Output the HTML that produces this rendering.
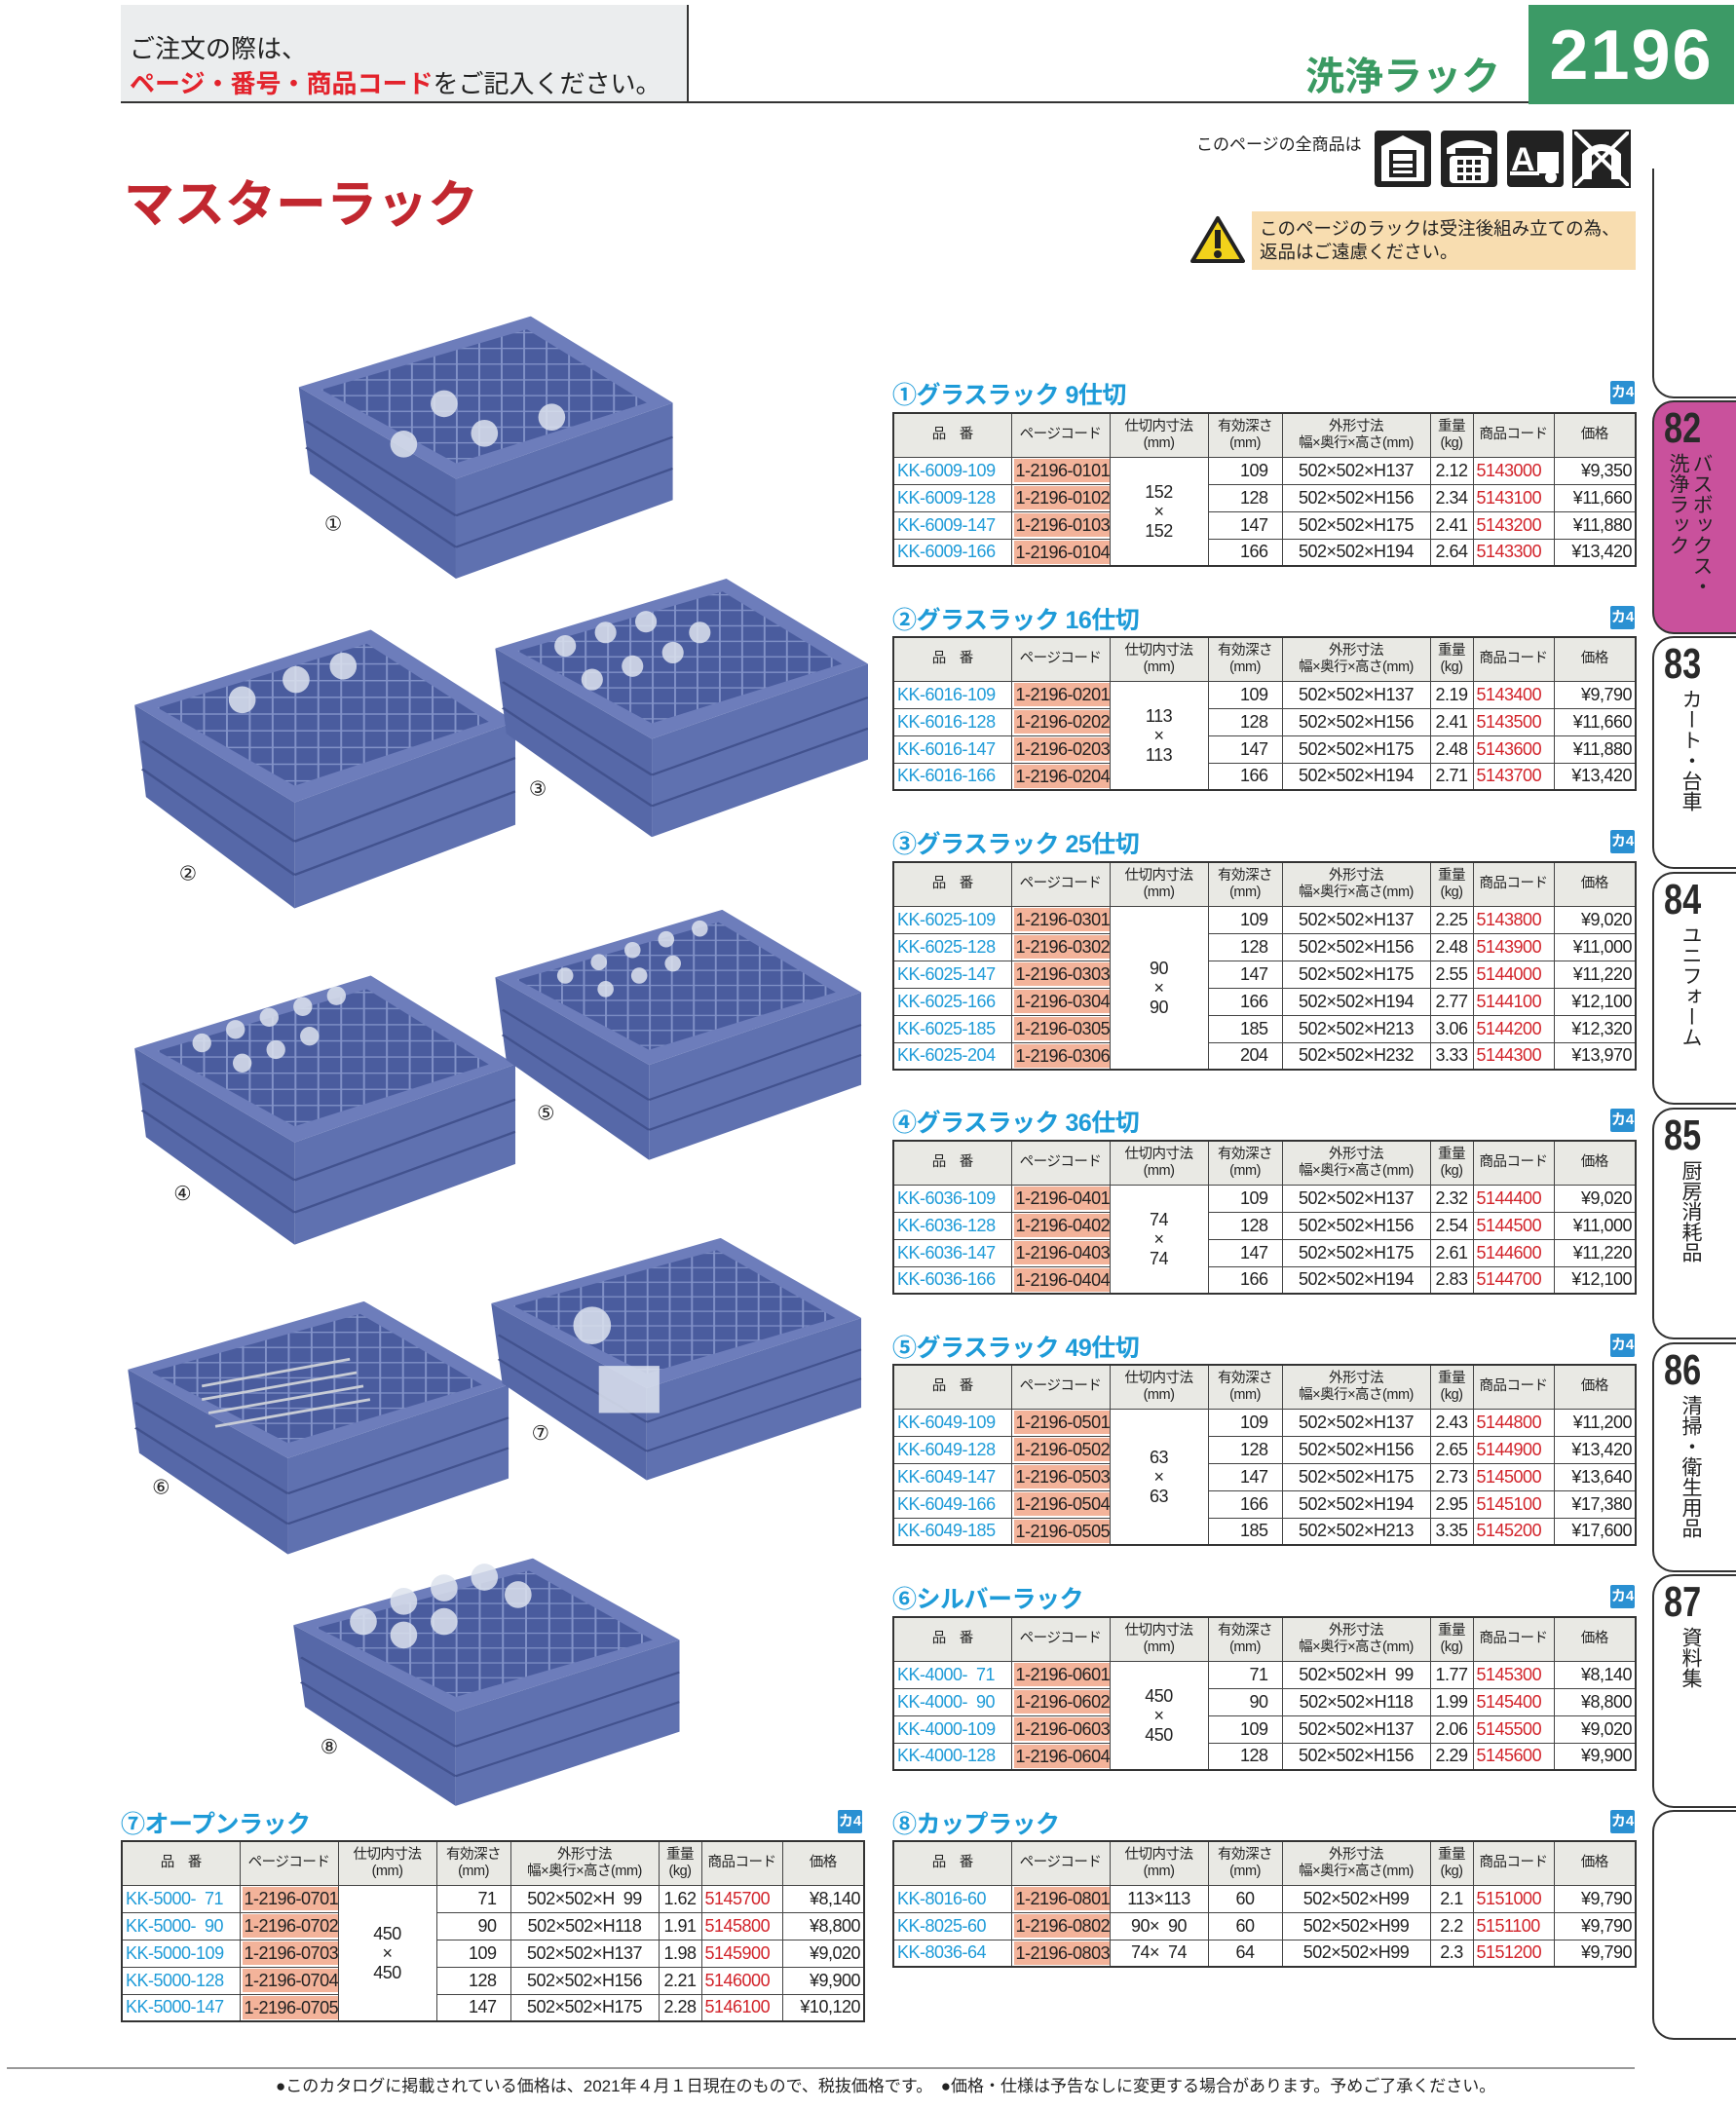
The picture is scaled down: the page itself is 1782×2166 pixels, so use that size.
<!DOCTYPE html>
<html><head><meta charset="utf-8">
<style>
*{margin:0;padding:0;box-sizing:border-box}
body{width:1782px;height:2166px;position:relative;background:#fff;font-family:"Liberation Sans","Noto Sans CJK JP",sans-serif;overflow:hidden;color:#222}
.abs{position:absolute}
table.t{position:absolute;border-collapse:collapse;table-layout:fixed;font-size:18px;border:2px solid #333}
table.t td,table.t th{border:1.5px solid #444;white-space:nowrap;overflow:hidden;padding:0 3px;font-weight:normal;letter-spacing:-0.5px}
table.t th{background:#e9e9e4;font-size:14.5px;line-height:17px;height:45px;color:#222}
table.t tr.r td{height:28px}
td.pn{color:#1e9bd8;text-align:left}
td.pc{text-align:left;padding:0 2px!important}
td.pc span{background:#f3b39a;display:inline-block;padding:0 2px;line-height:24px}
td.dv{text-align:center;line-height:20px}
td.dp{text-align:right;padding-right:14px!important}
td.ex{text-align:center}
td.wt{text-align:center}
td.cd{color:#d2232a;text-align:left}
td.pr{text-align:right}
.ttl{position:absolute;color:#1e9bd8;font-size:25px;font-weight:bold;letter-spacing:-0.5px}
.ka{position:absolute;background:#2a90d2;color:#fff;font-size:15px;font-weight:bold;width:25px;height:24px;text-align:center;line-height:24px;border-radius:2px}
.tab{position:absolute;left:1696px;width:90px;border:2px solid #333;border-right:none;border-radius:22px 0 0 22px}
.tab .n{position:absolute;left:10px;top:2px;font-size:44px;font-weight:bold;transform:scaleX(0.78);transform-origin:left top;color:#2a2a2a}
.tab .v{position:absolute;top:52px;writing-mode:vertical-rl;font-size:21px;line-height:24px;color:#222}
</style></head><body>

<!-- header -->
<div class="abs" style="left:124px;top:5px;width:583px;height:100px;background:#ebedee;border-right:2px solid #333"></div>
<div class="abs" style="left:124px;top:104px;width:1445px;height:2px;background:#333"></div>
<div class="abs" style="left:133px;top:32px;font-size:26px;line-height:36px;color:#222;white-space:nowrap">ご注文の際は、<br><span style="color:#e3232c;font-weight:bold">ページ・番号・商品コード</span>をご記入ください。</div>
<div class="abs" style="left:1340px;top:46px;font-size:40px;font-weight:bold;color:#3a9a62;white-space:nowrap">洗浄ラック</div>
<div class="abs" style="left:1569px;top:5px;width:211px;height:102px;background:#3c9a66"></div>
<div class="abs" style="left:1569px;top:16px;width:211px;text-align:center;font-size:72px;font-weight:bold;color:#fff;letter-spacing:2px">2196</div>

<div class="abs" style="left:127px;top:168px;font-size:52px;font-weight:bold;color:#c1272f;white-space:nowrap">マスターラック</div>

<div class="abs" style="left:1228px;top:134px;font-size:17px;color:#222">このページの全商品は</div>
<svg class="abs" style="left:1410px;top:130px" width="272" height="66">
 <rect x="1" y="4" width="58" height="58" rx="4" fill="#222"/>
 <polygon points="8,20 30,9 52,20 52,56 8,56" fill="#fff"/><rect x="16" y="24" width="28" height="28" fill="#222"/><rect x="20" y="28" width="20" height="20" fill="#fff"/><rect x="20" y="35" width="20" height="3" fill="#222"/><rect x="20" y="42" width="20" height="3" fill="#222"/>
 <rect x="69" y="4" width="58" height="58" rx="4" fill="#222"/>
 <path d="M75,22 Q98,6 121,22 L121,28 L112,28 L112,22 L84,22 L84,28 L75,28Z" fill="#fff"/><rect x="78" y="30" width="40" height="28" rx="4" fill="#fff"/>
 <g fill="#222"><rect x="86" y="34" width="6" height="5"/><rect x="95" y="34" width="6" height="5"/><rect x="104" y="34" width="6" height="5"/><rect x="86" y="42" width="6" height="5"/><rect x="95" y="42" width="6" height="5"/><rect x="104" y="42" width="6" height="5"/><rect x="86" y="50" width="6" height="5"/><rect x="95" y="50" width="6" height="5"/><rect x="104" y="50" width="6" height="5"/></g>
 <rect x="137" y="4" width="58" height="58" rx="4" fill="#222"/>
 <text x="141" y="45" font-size="34" font-weight="bold" fill="#fff" font-family="Liberation Sans">A</text>
 <rect x="168" y="26" width="22" height="22" fill="#fff"/><circle cx="182" cy="52" r="6" fill="#fff"/><rect x="140" y="46" width="30" height="4" fill="#fff"/>
 <rect x="205" y="4" width="58" height="58" fill="#222"/>
 <path d="M214,54 L214,28 Q234,8 254,28 L254,54 L244,54 L244,30 Q234,20 224,30 L224,54Z" fill="#fff"/>
 <line x1="205" y1="4" x2="263" y2="62" stroke="#fff" stroke-width="4"/><line x1="263" y1="4" x2="205" y2="62" stroke="#fff" stroke-width="4"/>
 <rect x="205" y="4" width="58" height="58" fill="none" stroke="#222" stroke-width="2"/>
</svg>
<svg class="abs" style="left:1222px;top:221px" width="56" height="50"><polygon points="28,3 54,47 2,47" fill="#f2d21b" stroke="#222" stroke-width="4" stroke-linejoin="round"/><rect x="25" y="15" width="6" height="19" fill="#222"/><circle cx="28" cy="40" r="4" fill="#222"/></svg>
<div class="abs" style="left:1285px;top:217px;width:394px;height:60px;background:#f8ddb0;font-size:18.5px;line-height:24px;padding:6px 0 0 8px;color:#222;white-space:nowrap">このページのラックは受注後組み立ての為、<br>返品はご遠慮ください。</div>

<!-- tabs -->
<div class="tab" style="top:173px;height:236px;border-top:none;border-radius:0 0 0 22px"></div>
<div class="tab" style="top:411px;height:240px;background:#c9519c"><div class="n">82</div><div class="v" style="left:12px;height:180px">バスボックス・<br>洗浄ラック</div></div>
<div class="tab" style="top:653px;height:239px"><div class="n">83</div><div class="v" style="left:25px">カート・台車</div></div>
<div class="tab" style="top:895px;height:239px"><div class="n">84</div><div class="v" style="left:25px">ユニフォーム</div></div>
<div class="tab" style="top:1137px;height:238px"><div class="n">85</div><div class="v" style="left:25px">厨房消耗品</div></div>
<div class="tab" style="top:1378px;height:236px"><div class="n">86</div><div class="v" style="left:25px">清掃・衛生用品</div></div>
<div class="tab" style="top:1616px;height:240px"><div class="n">87</div><div class="v" style="left:25px">資料集</div></div>
<div class="tab" style="top:1858px;height:236px;border-bottom:2px solid #333"></div>

<!-- racks -->
<svg class="abs" style="left:0;top:0" width="1782" height="2166">
<defs>
<pattern id="g" width="6" height="6" patternUnits="userSpaceOnUse"><rect width="6" height="6" fill="#4a5c9e"/><path d="M0,0H6M0,0V6" stroke="#8292c8" stroke-width="1"/></pattern>
<symbol id="rk" viewBox="0 0 100 100" preserveAspectRatio="none">
 <polygon points="0,27 3,60 42,100 42,62" fill="#5668a8"/>
 <polygon points="42,62 42,100 100,70 100,33" fill="#5f71b0"/>
 <g stroke="#42528e" stroke-width="0.8"><line x1="2" y1="40" x2="42" y2="76"/><line x1="2" y1="50" x2="42" y2="88"/><line x1="42" y1="76" x2="100" y2="46"/><line x1="42" y1="88" x2="100" y2="58"/></g>
 <polygon points="0,27 62,0 100,33 42,62" fill="#6d7dbb"/>
 <polygon points="6,28 61,5 93,33 42,56" fill="url(#g)"/>
</symbol>
</defs>
<g transform="scale(1.3814)">
<use href="#rk" x="222" y="235" width="278" height="195"/>
<use href="#rk" x="100" y="468" width="283" height="207"/>
<use href="#rk" x="368" y="430" width="277" height="192"/>
<use href="#rk" x="100" y="725" width="283" height="200"/>
<use href="#rk" x="368" y="676" width="272" height="186"/>
<use href="#rk" x="95" y="967" width="283" height="188"/>
<use href="#rk" x="365" y="920" width="275" height="180"/>
<use href="#rk" x="218" y="1158" width="287" height="184"/>
<g fill="#dde3ee" opacity="0.85">
<circle cx="330" cy="300" r="10"/><circle cx="360" cy="322" r="10"/><circle cx="300" cy="330" r="10"/><circle cx="410" cy="310" r="10"/>
<circle cx="180" cy="520" r="10"/><circle cx="220" cy="505" r="10"/><circle cx="255" cy="495" r="10"/>
<circle cx="420" cy="480" r="8"/><circle cx="450" cy="470" r="8"/><circle cx="480" cy="462" r="8"/><circle cx="470" cy="495" r="8"/><circle cx="500" cy="485" r="8"/><circle cx="520" cy="470" r="8"/><circle cx="440" cy="505" r="8"/>
<circle cx="150" cy="775" r="7"/><circle cx="175" cy="765" r="7"/><circle cx="200" cy="756" r="7"/><circle cx="225" cy="748" r="7"/><circle cx="250" cy="740" r="7"/><circle cx="180" cy="790" r="7"/><circle cx="205" cy="780" r="7"/><circle cx="230" cy="770" r="7"/>
<circle cx="420" cy="725" r="6"/><circle cx="445" cy="715" r="6"/><circle cx="470" cy="706" r="6"/><circle cx="495" cy="698" r="6"/><circle cx="520" cy="690" r="6"/><circle cx="450" cy="735" r="6"/><circle cx="475" cy="725" r="6"/><circle cx="500" cy="716" r="6"/>
<circle cx="440" cy="985" r="14"/><rect x="445" y="1015" width="45" height="35"/>
<circle cx="300" cy="1190" r="10"/><circle cx="330" cy="1180" r="10"/><circle cx="360" cy="1172" r="10"/><circle cx="270" cy="1205" r="10"/><circle cx="300" cy="1215" r="10"/><circle cx="330" cy="1205" r="10"/><circle cx="385" cy="1185" r="10"/>
</g>
<g stroke="#c8ccd6" stroke-width="2"><line x1="150" y1="1030" x2="260" y2="1010"/><line x1="150" y1="1040" x2="265" y2="1020"/><line x1="155" y1="1050" x2="270" y2="1030"/><line x1="160" y1="1060" x2="275" y2="1040"/></g>
<g font-family="Liberation Sans,sans-serif" font-size="15" fill="#222">
<text x="241" y="394">①</text><text x="133" y="654">②</text><text x="393" y="591">③</text><text x="129" y="892">④</text><text x="399" y="832">⑤</text><text x="113" y="1110">⑥</text><text x="395" y="1070">⑦</text><text x="238" y="1303">⑧</text>
</g>
</g>
</svg>

<div class="ttl" style="left:916px;top:386px">①グラスラック 9仕切</div><div class="ka" style="left:1653px;top:391px">カ4</div>
<table class="t" style="left:916px;top:423px;width:762px">
<colgroup><col style="width:121px"><col style="width:101px"><col style="width:101px"><col style="width:76px"><col style="width:152px"><col style="width:44px"><col style="width:83px"><col style="width:84px"></colgroup>
<tr><th>品　番</th><th>ページコード</th><th>仕切内寸法<br>(mm)</th><th>有効深さ<br>(mm)</th><th>外形寸法<br>幅×奥行×高さ(mm)</th><th>重量<br>(kg)</th><th>商品コード</th><th>価格</th></tr>
<tr class="r"><td class="pn">KK-6009-109</td><td class="pc"><span>1-2196-0101</span></td><td class="dv" rowspan="4">152<br>×<br>152</td><td class="dp">109</td><td class="ex">502×502×H137</td><td class="wt">2.12</td><td class="cd">5143000</td><td class="pr">¥9,350</td></tr>
<tr class="r"><td class="pn">KK-6009-128</td><td class="pc"><span>1-2196-0102</span></td><td class="dp">128</td><td class="ex">502×502×H156</td><td class="wt">2.34</td><td class="cd">5143100</td><td class="pr">¥11,660</td></tr>
<tr class="r"><td class="pn">KK-6009-147</td><td class="pc"><span>1-2196-0103</span></td><td class="dp">147</td><td class="ex">502×502×H175</td><td class="wt">2.41</td><td class="cd">5143200</td><td class="pr">¥11,880</td></tr>
<tr class="r"><td class="pn">KK-6009-166</td><td class="pc"><span>1-2196-0104</span></td><td class="dp">166</td><td class="ex">502×502×H194</td><td class="wt">2.64</td><td class="cd">5143300</td><td class="pr">¥13,420</td></tr>
</table>

<div class="ttl" style="left:916px;top:617px">②グラスラック 16仕切</div><div class="ka" style="left:1653px;top:622px">カ4</div>
<table class="t" style="left:916px;top:653px;width:762px">
<colgroup><col style="width:121px"><col style="width:101px"><col style="width:101px"><col style="width:76px"><col style="width:152px"><col style="width:44px"><col style="width:83px"><col style="width:84px"></colgroup>
<tr><th>品　番</th><th>ページコード</th><th>仕切内寸法<br>(mm)</th><th>有効深さ<br>(mm)</th><th>外形寸法<br>幅×奥行×高さ(mm)</th><th>重量<br>(kg)</th><th>商品コード</th><th>価格</th></tr>
<tr class="r"><td class="pn">KK-6016-109</td><td class="pc"><span>1-2196-0201</span></td><td class="dv" rowspan="4">113<br>×<br>113</td><td class="dp">109</td><td class="ex">502×502×H137</td><td class="wt">2.19</td><td class="cd">5143400</td><td class="pr">¥9,790</td></tr>
<tr class="r"><td class="pn">KK-6016-128</td><td class="pc"><span>1-2196-0202</span></td><td class="dp">128</td><td class="ex">502×502×H156</td><td class="wt">2.41</td><td class="cd">5143500</td><td class="pr">¥11,660</td></tr>
<tr class="r"><td class="pn">KK-6016-147</td><td class="pc"><span>1-2196-0203</span></td><td class="dp">147</td><td class="ex">502×502×H175</td><td class="wt">2.48</td><td class="cd">5143600</td><td class="pr">¥11,880</td></tr>
<tr class="r"><td class="pn">KK-6016-166</td><td class="pc"><span>1-2196-0204</span></td><td class="dp">166</td><td class="ex">502×502×H194</td><td class="wt">2.71</td><td class="cd">5143700</td><td class="pr">¥13,420</td></tr>
</table>

<div class="ttl" style="left:916px;top:847px">③グラスラック 25仕切</div><div class="ka" style="left:1653px;top:852px">カ4</div>
<table class="t" style="left:916px;top:884px;width:762px">
<colgroup><col style="width:121px"><col style="width:101px"><col style="width:101px"><col style="width:76px"><col style="width:152px"><col style="width:44px"><col style="width:83px"><col style="width:84px"></colgroup>
<tr><th>品　番</th><th>ページコード</th><th>仕切内寸法<br>(mm)</th><th>有効深さ<br>(mm)</th><th>外形寸法<br>幅×奥行×高さ(mm)</th><th>重量<br>(kg)</th><th>商品コード</th><th>価格</th></tr>
<tr class="r"><td class="pn">KK-6025-109</td><td class="pc"><span>1-2196-0301</span></td><td class="dv" rowspan="6">90<br>×<br>90</td><td class="dp">109</td><td class="ex">502×502×H137</td><td class="wt">2.25</td><td class="cd">5143800</td><td class="pr">¥9,020</td></tr>
<tr class="r"><td class="pn">KK-6025-128</td><td class="pc"><span>1-2196-0302</span></td><td class="dp">128</td><td class="ex">502×502×H156</td><td class="wt">2.48</td><td class="cd">5143900</td><td class="pr">¥11,000</td></tr>
<tr class="r"><td class="pn">KK-6025-147</td><td class="pc"><span>1-2196-0303</span></td><td class="dp">147</td><td class="ex">502×502×H175</td><td class="wt">2.55</td><td class="cd">5144000</td><td class="pr">¥11,220</td></tr>
<tr class="r"><td class="pn">KK-6025-166</td><td class="pc"><span>1-2196-0304</span></td><td class="dp">166</td><td class="ex">502×502×H194</td><td class="wt">2.77</td><td class="cd">5144100</td><td class="pr">¥12,100</td></tr>
<tr class="r"><td class="pn">KK-6025-185</td><td class="pc"><span>1-2196-0305</span></td><td class="dp">185</td><td class="ex">502×502×H213</td><td class="wt">3.06</td><td class="cd">5144200</td><td class="pr">¥12,320</td></tr>
<tr class="r"><td class="pn">KK-6025-204</td><td class="pc"><span>1-2196-0306</span></td><td class="dp">204</td><td class="ex">502×502×H232</td><td class="wt">3.33</td><td class="cd">5144300</td><td class="pr">¥13,970</td></tr>
</table>

<div class="ttl" style="left:916px;top:1133px">④グラスラック 36仕切</div><div class="ka" style="left:1653px;top:1138px">カ4</div>
<table class="t" style="left:916px;top:1170px;width:762px">
<colgroup><col style="width:121px"><col style="width:101px"><col style="width:101px"><col style="width:76px"><col style="width:152px"><col style="width:44px"><col style="width:83px"><col style="width:84px"></colgroup>
<tr><th>品　番</th><th>ページコード</th><th>仕切内寸法<br>(mm)</th><th>有効深さ<br>(mm)</th><th>外形寸法<br>幅×奥行×高さ(mm)</th><th>重量<br>(kg)</th><th>商品コード</th><th>価格</th></tr>
<tr class="r"><td class="pn">KK-6036-109</td><td class="pc"><span>1-2196-0401</span></td><td class="dv" rowspan="4">74<br>×<br>74</td><td class="dp">109</td><td class="ex">502×502×H137</td><td class="wt">2.32</td><td class="cd">5144400</td><td class="pr">¥9,020</td></tr>
<tr class="r"><td class="pn">KK-6036-128</td><td class="pc"><span>1-2196-0402</span></td><td class="dp">128</td><td class="ex">502×502×H156</td><td class="wt">2.54</td><td class="cd">5144500</td><td class="pr">¥11,000</td></tr>
<tr class="r"><td class="pn">KK-6036-147</td><td class="pc"><span>1-2196-0403</span></td><td class="dp">147</td><td class="ex">502×502×H175</td><td class="wt">2.61</td><td class="cd">5144600</td><td class="pr">¥11,220</td></tr>
<tr class="r"><td class="pn">KK-6036-166</td><td class="pc"><span>1-2196-0404</span></td><td class="dp">166</td><td class="ex">502×502×H194</td><td class="wt">2.83</td><td class="cd">5144700</td><td class="pr">¥12,100</td></tr>
</table>

<div class="ttl" style="left:916px;top:1364px">⑤グラスラック 49仕切</div><div class="ka" style="left:1653px;top:1369px">カ4</div>
<table class="t" style="left:916px;top:1400px;width:762px">
<colgroup><col style="width:121px"><col style="width:101px"><col style="width:101px"><col style="width:76px"><col style="width:152px"><col style="width:44px"><col style="width:83px"><col style="width:84px"></colgroup>
<tr><th>品　番</th><th>ページコード</th><th>仕切内寸法<br>(mm)</th><th>有効深さ<br>(mm)</th><th>外形寸法<br>幅×奥行×高さ(mm)</th><th>重量<br>(kg)</th><th>商品コード</th><th>価格</th></tr>
<tr class="r"><td class="pn">KK-6049-109</td><td class="pc"><span>1-2196-0501</span></td><td class="dv" rowspan="5">63<br>×<br>63</td><td class="dp">109</td><td class="ex">502×502×H137</td><td class="wt">2.43</td><td class="cd">5144800</td><td class="pr">¥11,200</td></tr>
<tr class="r"><td class="pn">KK-6049-128</td><td class="pc"><span>1-2196-0502</span></td><td class="dp">128</td><td class="ex">502×502×H156</td><td class="wt">2.65</td><td class="cd">5144900</td><td class="pr">¥13,420</td></tr>
<tr class="r"><td class="pn">KK-6049-147</td><td class="pc"><span>1-2196-0503</span></td><td class="dp">147</td><td class="ex">502×502×H175</td><td class="wt">2.73</td><td class="cd">5145000</td><td class="pr">¥13,640</td></tr>
<tr class="r"><td class="pn">KK-6049-166</td><td class="pc"><span>1-2196-0504</span></td><td class="dp">166</td><td class="ex">502×502×H194</td><td class="wt">2.95</td><td class="cd">5145100</td><td class="pr">¥17,380</td></tr>
<tr class="r"><td class="pn">KK-6049-185</td><td class="pc"><span>1-2196-0505</span></td><td class="dp">185</td><td class="ex">502×502×H213</td><td class="wt">3.35</td><td class="cd">5145200</td><td class="pr">¥17,600</td></tr>
</table>

<div class="ttl" style="left:916px;top:1622px">⑥シルバーラック</div><div class="ka" style="left:1653px;top:1627px">カ4</div>
<table class="t" style="left:916px;top:1659px;width:762px">
<colgroup><col style="width:121px"><col style="width:101px"><col style="width:101px"><col style="width:76px"><col style="width:152px"><col style="width:44px"><col style="width:83px"><col style="width:84px"></colgroup>
<tr><th>品　番</th><th>ページコード</th><th>仕切内寸法<br>(mm)</th><th>有効深さ<br>(mm)</th><th>外形寸法<br>幅×奥行×高さ(mm)</th><th>重量<br>(kg)</th><th>商品コード</th><th>価格</th></tr>
<tr class="r"><td class="pn">KK-4000-&nbsp;&nbsp;71</td><td class="pc"><span>1-2196-0601</span></td><td class="dv" rowspan="4">450<br>×<br>450</td><td class="dp">71</td><td class="ex">502×502×H&nbsp;&nbsp;99</td><td class="wt">1.77</td><td class="cd">5145300</td><td class="pr">¥8,140</td></tr>
<tr class="r"><td class="pn">KK-4000-&nbsp;&nbsp;90</td><td class="pc"><span>1-2196-0602</span></td><td class="dp">90</td><td class="ex">502×502×H118</td><td class="wt">1.99</td><td class="cd">5145400</td><td class="pr">¥8,800</td></tr>
<tr class="r"><td class="pn">KK-4000-109</td><td class="pc"><span>1-2196-0603</span></td><td class="dp">109</td><td class="ex">502×502×H137</td><td class="wt">2.06</td><td class="cd">5145500</td><td class="pr">¥9,020</td></tr>
<tr class="r"><td class="pn">KK-4000-128</td><td class="pc"><span>1-2196-0604</span></td><td class="dp">128</td><td class="ex">502×502×H156</td><td class="wt">2.29</td><td class="cd">5145600</td><td class="pr">¥9,900</td></tr>
</table>

<div class="ttl" style="left:124px;top:1853px">⑦オープンラック</div><div class="ka" style="left:860px;top:1858px">カ4</div>
<table class="t" style="left:124px;top:1889px;width:762px">
<colgroup><col style="width:121px"><col style="width:101px"><col style="width:101px"><col style="width:76px"><col style="width:152px"><col style="width:44px"><col style="width:83px"><col style="width:84px"></colgroup>
<tr><th>品　番</th><th>ページコード</th><th>仕切内寸法<br>(mm)</th><th>有効深さ<br>(mm)</th><th>外形寸法<br>幅×奥行×高さ(mm)</th><th>重量<br>(kg)</th><th>商品コード</th><th>価格</th></tr>
<tr class="r"><td class="pn">KK-5000-&nbsp;&nbsp;71</td><td class="pc"><span>1-2196-0701</span></td><td class="dv" rowspan="5">450<br>×<br>450</td><td class="dp">71</td><td class="ex">502×502×H&nbsp;&nbsp;99</td><td class="wt">1.62</td><td class="cd">5145700</td><td class="pr">¥8,140</td></tr>
<tr class="r"><td class="pn">KK-5000-&nbsp;&nbsp;90</td><td class="pc"><span>1-2196-0702</span></td><td class="dp">90</td><td class="ex">502×502×H118</td><td class="wt">1.91</td><td class="cd">5145800</td><td class="pr">¥8,800</td></tr>
<tr class="r"><td class="pn">KK-5000-109</td><td class="pc"><span>1-2196-0703</span></td><td class="dp">109</td><td class="ex">502×502×H137</td><td class="wt">1.98</td><td class="cd">5145900</td><td class="pr">¥9,020</td></tr>
<tr class="r"><td class="pn">KK-5000-128</td><td class="pc"><span>1-2196-0704</span></td><td class="dp">128</td><td class="ex">502×502×H156</td><td class="wt">2.21</td><td class="cd">5146000</td><td class="pr">¥9,900</td></tr>
<tr class="r"><td class="pn">KK-5000-147</td><td class="pc"><span>1-2196-0705</span></td><td class="dp">147</td><td class="ex">502×502×H175</td><td class="wt">2.28</td><td class="cd">5146100</td><td class="pr">¥10,120</td></tr>
</table>

<div class="ttl" style="left:916px;top:1853px">⑧カップラック</div><div class="ka" style="left:1653px;top:1858px">カ4</div>
<table class="t" style="left:916px;top:1889px;width:762px">
<colgroup><col style="width:121px"><col style="width:101px"><col style="width:101px"><col style="width:76px"><col style="width:152px"><col style="width:44px"><col style="width:83px"><col style="width:84px"></colgroup>
<tr><th>品　番</th><th>ページコード</th><th>仕切内寸法<br>(mm)</th><th>有効深さ<br>(mm)</th><th>外形寸法<br>幅×奥行×高さ(mm)</th><th>重量<br>(kg)</th><th>商品コード</th><th>価格</th></tr>
<tr class="r"><td class="pn">KK-8016-60</td><td class="pc"><span>1-2196-0801</span></td><td class="ex">113×113</td><td class="ex">60</td><td class="ex">502×502×H99</td><td class="wt">2.1</td><td class="cd">5151000</td><td class="pr">¥9,790</td></tr>
<tr class="r"><td class="pn">KK-8025-60</td><td class="pc"><span>1-2196-0802</span></td><td class="ex">90×&nbsp;&nbsp;90</td><td class="ex">60</td><td class="ex">502×502×H99</td><td class="wt">2.2</td><td class="cd">5151100</td><td class="pr">¥9,790</td></tr>
<tr class="r"><td class="pn">KK-8036-64</td><td class="pc"><span>1-2196-0803</span></td><td class="ex">74×&nbsp;&nbsp;74</td><td class="ex">64</td><td class="ex">502×502×H99</td><td class="wt">2.3</td><td class="cd">5151200</td><td class="pr">¥9,790</td></tr>
</table>

<!-- footer -->
<div class="abs" style="left:7px;top:2122px;width:1671px;height:2px;background:#999"></div>
<div class="abs" style="left:283px;top:2127px;font-size:17px;color:#222;white-space:nowrap">●このカタログに掲載されている価格は、2021年４月１日現在のもので、税抜価格です。　●価格・仕様は予告なしに変更する場合があります。予めご了承ください。</div>
</body></html>
